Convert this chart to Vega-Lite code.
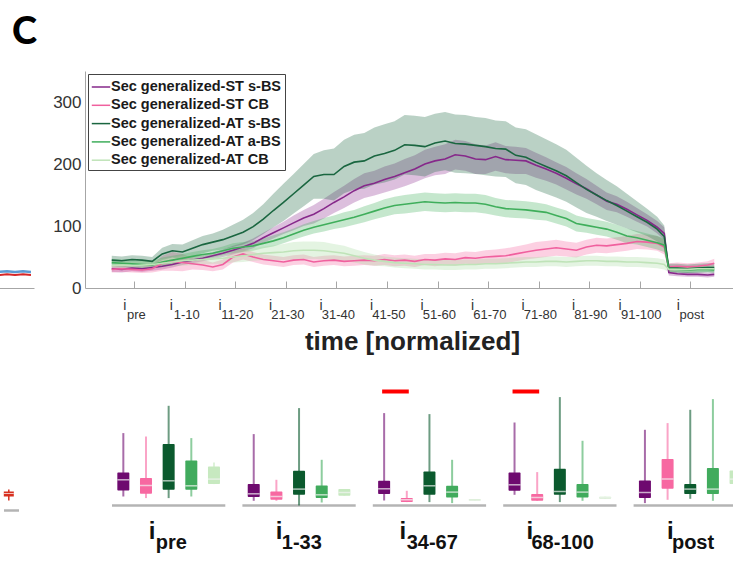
{
"$schema": "https://vega.github.io/schema/vega-lite/v6.json",
"padding": {"left": -6, "top": 14, "right": 0, "bottom": 0},
"title": {"text": "C", "anchor": "start", "fontSize": 38, "fontWeight": 900, "font": "Lato", "dx": 18, "offset": 19, "color": "#000000"},
"config": {"font": "Liberation Sans", "view": {"stroke": null}},
"datasets": {
"ts": [
{"s":"a","t":-9,"m":31,"l":26,"h":36},{"s":"a","t":-7,"m":30,"l":25,"h":35},{"s":"a","t":-5,"m":32,"l":27,"h":37},{"s":"a","t":-3,"m":31,"l":26,"h":36},{"s":"a","t":-1,"m":33,"l":28,"h":38},{"s":"a","t":1,"m":35,"l":30,"h":40},{"s":"a","t":3,"m":38,"l":33,"h":43},{"s":"a","t":5,"m":42,"l":37,"h":47},{"s":"a","t":7,"m":45,"l":40,"h":50},{"s":"a","t":9,"m":48,"l":43,"h":53},{"s":"a","t":11,"m":52,"l":46,"h":58},{"s":"a","t":13,"m":56,"l":50,"h":62},{"s":"a","t":15,"m":61,"l":54,"h":68},{"s":"a","t":17,"m":66,"l":59,"h":73},{"s":"a","t":19,"m":72,"l":64,"h":80},{"s":"a","t":21,"m":81,"l":73,"h":89},{"s":"a","t":23,"m":89,"l":80,"h":98},{"s":"a","t":25,"m":97,"l":87,"h":107},{"s":"a","t":27,"m":105,"l":93,"h":117},{"s":"a","t":29,"m":113,"l":100,"h":126},{"s":"a","t":31,"m":119,"l":104,"h":134},{"s":"a","t":33,"m":128,"l":112,"h":144},{"s":"a","t":35,"m":138,"l":121,"h":155},{"s":"a","t":37,"m":147,"l":129,"h":165},{"s":"a","t":39,"m":157,"l":138,"h":176},{"s":"a","t":41,"m":165,"l":145,"h":185},{"s":"a","t":43,"m":169,"l":149,"h":189},{"s":"a","t":45,"m":175,"l":154,"h":196},{"s":"a","t":47,"m":180,"l":159,"h":201},{"s":"a","t":49,"m":186,"l":164,"h":208},{"s":"a","t":51,"m":192,"l":170,"h":214},{"s":"a","t":53,"m":200,"l":177,"h":223},{"s":"a","t":55,"m":205,"l":182,"h":228},{"s":"a","t":57,"m":208,"l":184,"h":232},{"s":"a","t":59,"m":215,"l":191,"h":239},{"s":"a","t":61,"m":213,"l":189,"h":237},{"s":"a","t":63,"m":208,"l":184,"h":232},{"s":"a","t":65,"m":207,"l":184,"h":230},{"s":"a","t":67,"m":212,"l":189,"h":235},{"s":"a","t":69,"m":207,"l":185,"h":229},{"s":"a","t":71,"m":206,"l":184,"h":228},{"s":"a","t":73,"m":205,"l":184,"h":226},{"s":"a","t":75,"m":198,"l":178,"h":218},{"s":"a","t":77,"m":192,"l":173,"h":211},{"s":"a","t":79,"m":185,"l":167,"h":203},{"s":"a","t":81,"m":177,"l":159,"h":195},{"s":"a","t":83,"m":168,"l":151,"h":185},{"s":"a","t":85,"m":160,"l":144,"h":176},{"s":"a","t":87,"m":150,"l":135,"h":165},{"s":"a","t":89,"m":140,"l":126,"h":154},{"s":"a","t":91,"m":135,"l":122,"h":148},{"s":"a","t":93,"m":127,"l":115,"h":139},{"s":"a","t":95,"m":118,"l":107,"h":129},{"s":"a","t":97,"m":109,"l":99,"h":119},{"s":"a","t":99,"m":98,"l":88,"h":108},{"s":"a","t":100.4,"m":88,"l":78,"h":98},{"s":"a","t":101.3,"m":25,"l":20,"h":30},{"s":"a","t":103,"m":23,"l":19,"h":27},{"s":"a","t":105,"m":22,"l":18,"h":26},{"s":"a","t":107,"m":22,"l":18,"h":26},{"s":"a","t":109,"m":21,"l":17,"h":25},{"s":"a","t":110.3,"m":22,"l":18,"h":26},
{"s":"b","t":-9,"m":30,"l":25,"h":35},{"s":"b","t":-7,"m":31,"l":26,"h":36},{"s":"b","t":-5,"m":30,"l":25,"h":35},{"s":"b","t":-3,"m":29,"l":24,"h":34},{"s":"b","t":-1,"m":31,"l":25,"h":37},{"s":"b","t":1,"m":40,"l":28,"h":52},{"s":"b","t":3,"m":43,"l":28,"h":58},{"s":"b","t":5,"m":41,"l":27,"h":55},{"s":"b","t":7,"m":39,"l":30,"h":48},{"s":"b","t":9,"m":37,"l":29,"h":45},{"s":"b","t":11,"m":34,"l":27,"h":41},{"s":"b","t":13,"m":38,"l":30,"h":46},{"s":"b","t":15,"m":50,"l":41,"h":59},{"s":"b","t":17,"m":55,"l":46,"h":64},{"s":"b","t":19,"m":50,"l":42,"h":58},{"s":"b","t":21,"m":46,"l":38,"h":54},{"s":"b","t":23,"m":44,"l":36,"h":52},{"s":"b","t":25,"m":42,"l":34,"h":50},{"s":"b","t":27,"m":45,"l":37,"h":53},{"s":"b","t":29,"m":46,"l":38,"h":54},{"s":"b","t":31,"m":42,"l":34,"h":50},{"s":"b","t":33,"m":44,"l":36,"h":52},{"s":"b","t":35,"m":45,"l":37,"h":53},{"s":"b","t":37,"m":43,"l":35,"h":51},{"s":"b","t":39,"m":44,"l":36,"h":52},{"s":"b","t":41,"m":45,"l":37,"h":53},{"s":"b","t":43,"m":44,"l":36,"h":52},{"s":"b","t":45,"m":46,"l":37,"h":55},{"s":"b","t":47,"m":44,"l":35,"h":53},{"s":"b","t":49,"m":45,"l":36,"h":54},{"s":"b","t":51,"m":43,"l":34,"h":52},{"s":"b","t":53,"m":46,"l":37,"h":55},{"s":"b","t":55,"m":45,"l":35,"h":55},{"s":"b","t":57,"m":47,"l":37,"h":57},{"s":"b","t":59,"m":46,"l":36,"h":56},{"s":"b","t":61,"m":49,"l":39,"h":59},{"s":"b","t":63,"m":48,"l":38,"h":58},{"s":"b","t":65,"m":50,"l":39,"h":61},{"s":"b","t":67,"m":51,"l":40,"h":62},{"s":"b","t":69,"m":52,"l":40,"h":64},{"s":"b","t":71,"m":55,"l":43,"h":67},{"s":"b","t":73,"m":58,"l":46,"h":70},{"s":"b","t":75,"m":61,"l":48,"h":74},{"s":"b","t":77,"m":63,"l":50,"h":76},{"s":"b","t":79,"m":65,"l":52,"h":78},{"s":"b","t":81,"m":63,"l":51,"h":75},{"s":"b","t":83,"m":61,"l":49,"h":73},{"s":"b","t":85,"m":66,"l":54,"h":78},{"s":"b","t":87,"m":69,"l":57,"h":81},{"s":"b","t":89,"m":68,"l":56,"h":80},{"s":"b","t":91,"m":70,"l":58,"h":82},{"s":"b","t":93,"m":72,"l":60,"h":84},{"s":"b","t":95,"m":75,"l":63,"h":87},{"s":"b","t":97,"m":74,"l":62,"h":86},{"s":"b","t":99,"m":72,"l":60,"h":84},{"s":"b","t":100.4,"m":66,"l":54,"h":78},{"s":"b","t":101.3,"m":34,"l":28,"h":40},{"s":"b","t":103,"m":35,"l":29,"h":41},{"s":"b","t":105,"m":34,"l":28,"h":40},{"s":"b","t":107,"m":35,"l":29,"h":41},{"s":"b","t":109,"m":37,"l":31,"h":43},{"s":"b","t":110.3,"m":40,"l":33,"h":47},
{"s":"c","t":-9,"m":45,"l":38,"h":52},{"s":"c","t":-7,"m":44,"l":37,"h":51},{"s":"c","t":-5,"m":46,"l":39,"h":53},{"s":"c","t":-3,"m":45,"l":38,"h":52},{"s":"c","t":-1,"m":43,"l":36,"h":50},{"s":"c","t":1,"m":55,"l":45,"h":65},{"s":"c","t":3,"m":60,"l":49,"h":71},{"s":"c","t":5,"m":58,"l":46,"h":70},{"s":"c","t":7,"m":64,"l":51,"h":77},{"s":"c","t":9,"m":70,"l":56,"h":84},{"s":"c","t":11,"m":74,"l":60,"h":88},{"s":"c","t":13,"m":78,"l":62,"h":94},{"s":"c","t":15,"m":84,"l":66,"h":102},{"s":"c","t":17,"m":90,"l":70,"h":110},{"s":"c","t":19,"m":99,"l":77,"h":121},{"s":"c","t":21,"m":111,"l":87,"h":135},{"s":"c","t":23,"m":125,"l":98,"h":152},{"s":"c","t":25,"m":138,"l":108,"h":168},{"s":"c","t":27,"m":152,"l":120,"h":184},{"s":"c","t":29,"m":166,"l":132,"h":200},{"s":"c","t":31,"m":180,"l":144,"h":216},{"s":"c","t":33,"m":183,"l":144,"h":222},{"s":"c","t":35,"m":183,"l":141,"h":225},{"s":"c","t":37,"m":196,"l":153,"h":239},{"s":"c","t":39,"m":203,"l":159,"h":247},{"s":"c","t":41,"m":205,"l":160,"h":250},{"s":"c","t":43,"m":213,"l":167,"h":259},{"s":"c","t":45,"m":217,"l":170,"h":264},{"s":"c","t":47,"m":222,"l":175,"h":269},{"s":"c","t":49,"m":231,"l":183,"h":279},{"s":"c","t":51,"m":230,"l":182,"h":278},{"s":"c","t":53,"m":228,"l":180,"h":276},{"s":"c","t":55,"m":234,"l":187,"h":281},{"s":"c","t":57,"m":237,"l":190,"h":284},{"s":"c","t":59,"m":233,"l":186,"h":280},{"s":"c","t":61,"m":232,"l":185,"h":279},{"s":"c","t":63,"m":230,"l":184,"h":276},{"s":"c","t":65,"m":228,"l":182,"h":274},{"s":"c","t":67,"m":225,"l":180,"h":270},{"s":"c","t":69,"m":224,"l":179,"h":269},{"s":"c","t":71,"m":214,"l":169,"h":259},{"s":"c","t":73,"m":211,"l":166,"h":256},{"s":"c","t":75,"m":203,"l":158,"h":248},{"s":"c","t":77,"m":196,"l":152,"h":240},{"s":"c","t":79,"m":189,"l":146,"h":232},{"s":"c","t":81,"m":181,"l":139,"h":223},{"s":"c","t":83,"m":170,"l":130,"h":210},{"s":"c","t":85,"m":159,"l":121,"h":197},{"s":"c","t":87,"m":150,"l":115,"h":185},{"s":"c","t":89,"m":141,"l":108,"h":174},{"s":"c","t":91,"m":133,"l":102,"h":164},{"s":"c","t":93,"m":124,"l":96,"h":152},{"s":"c","t":95,"m":115,"l":90,"h":140},{"s":"c","t":97,"m":106,"l":84,"h":128},{"s":"c","t":99,"m":95,"l":75,"h":115},{"s":"c","t":100.4,"m":83,"l":65,"h":101},{"s":"c","t":101.3,"m":32,"l":25,"h":39},{"s":"c","t":103,"m":32,"l":25,"h":39},{"s":"c","t":105,"m":31,"l":24,"h":38},{"s":"c","t":107,"m":32,"l":25,"h":39},{"s":"c","t":109,"m":33,"l":26,"h":40},{"s":"c","t":110.3,"m":33,"l":26,"h":40},
{"s":"d","t":-9,"m":41,"l":35,"h":47},{"s":"d","t":-7,"m":40,"l":34,"h":46},{"s":"d","t":-5,"m":39,"l":33,"h":45},{"s":"d","t":-3,"m":38,"l":32,"h":44},{"s":"d","t":-1,"m":37,"l":31,"h":43},{"s":"d","t":1,"m":42,"l":35,"h":49},{"s":"d","t":3,"m":45,"l":38,"h":52},{"s":"d","t":5,"m":48,"l":41,"h":55},{"s":"d","t":7,"m":51,"l":44,"h":58},{"s":"d","t":9,"m":54,"l":47,"h":61},{"s":"d","t":11,"m":56,"l":49,"h":63},{"s":"d","t":13,"m":60,"l":53,"h":67},{"s":"d","t":15,"m":64,"l":56,"h":72},{"s":"d","t":17,"m":66,"l":58,"h":74},{"s":"d","t":19,"m":68,"l":60,"h":76},{"s":"d","t":21,"m":72,"l":64,"h":80},{"s":"d","t":23,"m":76,"l":67,"h":85},{"s":"d","t":25,"m":81,"l":72,"h":90},{"s":"d","t":27,"m":87,"l":78,"h":96},{"s":"d","t":29,"m":93,"l":83,"h":103},{"s":"d","t":31,"m":98,"l":88,"h":108},{"s":"d","t":33,"m":102,"l":91,"h":113},{"s":"d","t":35,"m":106,"l":95,"h":117},{"s":"d","t":37,"m":110,"l":98,"h":122},{"s":"d","t":39,"m":114,"l":102,"h":126},{"s":"d","t":41,"m":119,"l":106,"h":132},{"s":"d","t":43,"m":124,"l":111,"h":137},{"s":"d","t":45,"m":129,"l":115,"h":143},{"s":"d","t":47,"m":133,"l":119,"h":147},{"s":"d","t":49,"m":135,"l":120,"h":150},{"s":"d","t":51,"m":137,"l":122,"h":152},{"s":"d","t":53,"m":139,"l":124,"h":154},{"s":"d","t":55,"m":138,"l":123,"h":153},{"s":"d","t":57,"m":137,"l":122,"h":152},{"s":"d","t":59,"m":138,"l":123,"h":153},{"s":"d","t":61,"m":137,"l":122,"h":152},{"s":"d","t":63,"m":137,"l":122,"h":152},{"s":"d","t":65,"m":135,"l":120,"h":150},{"s":"d","t":67,"m":131,"l":117,"h":145},{"s":"d","t":69,"m":128,"l":114,"h":142},{"s":"d","t":71,"m":127,"l":113,"h":141},{"s":"d","t":73,"m":126,"l":112,"h":140},{"s":"d","t":75,"m":124,"l":110,"h":138},{"s":"d","t":77,"m":122,"l":109,"h":135},{"s":"d","t":79,"m":117,"l":104,"h":130},{"s":"d","t":81,"m":112,"l":99,"h":125},{"s":"d","t":83,"m":104,"l":91,"h":117},{"s":"d","t":85,"m":101,"l":89,"h":113},{"s":"d","t":87,"m":98,"l":86,"h":110},{"s":"d","t":89,"m":95,"l":83,"h":107},{"s":"d","t":91,"m":90,"l":78,"h":102},{"s":"d","t":93,"m":84,"l":72,"h":96},{"s":"d","t":95,"m":81,"l":70,"h":92},{"s":"d","t":97,"m":77,"l":66,"h":88},{"s":"d","t":99,"m":73,"l":62,"h":84},{"s":"d","t":100.4,"m":69,"l":58,"h":80},{"s":"d","t":101.3,"m":31,"l":26,"h":36},{"s":"d","t":103,"m":30,"l":25,"h":35},{"s":"d","t":105,"m":29,"l":24,"h":34},{"s":"d","t":107,"m":30,"l":25,"h":35},{"s":"d","t":109,"m":30,"l":25,"h":35},{"s":"d","t":110.3,"m":29,"l":24,"h":34},
{"s":"e","t":-9,"m":36,"l":30,"h":42},{"s":"e","t":-7,"m":37,"l":31,"h":43},{"s":"e","t":-5,"m":36,"l":30,"h":42},{"s":"e","t":-3,"m":37,"l":31,"h":43},{"s":"e","t":-1,"m":38,"l":32,"h":44},{"s":"e","t":1,"m":40,"l":33,"h":47},{"s":"e","t":3,"m":42,"l":35,"h":49},{"s":"e","t":5,"m":44,"l":36,"h":52},{"s":"e","t":7,"m":45,"l":37,"h":53},{"s":"e","t":9,"m":46,"l":38,"h":54},{"s":"e","t":11,"m":47,"l":39,"h":55},{"s":"e","t":13,"m":48,"l":39,"h":57},{"s":"e","t":15,"m":50,"l":41,"h":59},{"s":"e","t":17,"m":52,"l":42,"h":62},{"s":"e","t":19,"m":54,"l":44,"h":64},{"s":"e","t":21,"m":56,"l":45,"h":67},{"s":"e","t":23,"m":57,"l":45,"h":69},{"s":"e","t":25,"m":58,"l":45,"h":71},{"s":"e","t":27,"m":60,"l":46,"h":74},{"s":"e","t":29,"m":61,"l":47,"h":75},{"s":"e","t":31,"m":61,"l":47,"h":75},{"s":"e","t":33,"m":60,"l":46,"h":74},{"s":"e","t":35,"m":58,"l":45,"h":71},{"s":"e","t":37,"m":56,"l":44,"h":68},{"s":"e","t":39,"m":52,"l":41,"h":63},{"s":"e","t":41,"m":48,"l":38,"h":58},{"s":"e","t":43,"m":45,"l":36,"h":54},{"s":"e","t":45,"m":43,"l":35,"h":51},{"s":"e","t":47,"m":41,"l":33,"h":49},{"s":"e","t":49,"m":40,"l":32,"h":48},{"s":"e","t":51,"m":39,"l":31,"h":47},{"s":"e","t":53,"m":38,"l":30,"h":46},{"s":"e","t":55,"m":38,"l":30,"h":46},{"s":"e","t":57,"m":37,"l":29,"h":45},{"s":"e","t":59,"m":37,"l":29,"h":45},{"s":"e","t":61,"m":38,"l":30,"h":46},{"s":"e","t":63,"m":38,"l":30,"h":46},{"s":"e","t":65,"m":39,"l":31,"h":47},{"s":"e","t":67,"m":39,"l":31,"h":47},{"s":"e","t":69,"m":40,"l":32,"h":48},{"s":"e","t":71,"m":41,"l":33,"h":49},{"s":"e","t":73,"m":42,"l":34,"h":50},{"s":"e","t":75,"m":42,"l":34,"h":50},{"s":"e","t":77,"m":43,"l":35,"h":51},{"s":"e","t":79,"m":43,"l":35,"h":51},{"s":"e","t":81,"m":42,"l":34,"h":50},{"s":"e","t":83,"m":43,"l":35,"h":51},{"s":"e","t":85,"m":44,"l":36,"h":52},{"s":"e","t":87,"m":44,"l":36,"h":52},{"s":"e","t":89,"m":43,"l":35,"h":51},{"s":"e","t":91,"m":43,"l":35,"h":51},{"s":"e","t":93,"m":42,"l":34,"h":50},{"s":"e","t":95,"m":42,"l":34,"h":50},{"s":"e","t":97,"m":41,"l":33,"h":49},{"s":"e","t":99,"m":40,"l":32,"h":48},{"s":"e","t":100.4,"m":38,"l":30,"h":46},{"s":"e","t":101.3,"m":30,"l":26,"h":34},{"s":"e","t":103,"m":30,"l":26,"h":34},{"s":"e","t":105,"m":30,"l":26,"h":34},{"s":"e","t":107,"m":31,"l":27,"h":35},{"s":"e","t":109,"m":31,"l":27,"h":35},{"s":"e","t":110.3,"m":31,"l":27,"h":35}
],
"ticks": [
{"t":-4.5,"li":"i\u00a0\u00a0\u00a0\u00a0\u00a0\u200b","ls":"\u200b\u00a0pre"},
{"t":5.5,"li":"i\u00a0\u00a0\u00a0\u00a0\u00a0\u00a0\u00a0\u200b","ls":"\u200b\u00a01-10"},
{"t":15.5,"li":"i\u00a0\u00a0\u00a0\u00a0\u00a0\u00a0\u00a0\u00a0\u200b","ls":"\u200b\u00a011-20"},
{"t":25.5,"li":"i\u00a0\u00a0\u00a0\u00a0\u00a0\u00a0\u00a0\u00a0\u200b","ls":"\u200b\u00a021-30"},
{"t":35.5,"li":"i\u00a0\u00a0\u00a0\u00a0\u00a0\u00a0\u00a0\u00a0\u200b","ls":"\u200b\u00a031-40"},
{"t":45.5,"li":"i\u00a0\u00a0\u00a0\u00a0\u00a0\u00a0\u00a0\u00a0\u200b","ls":"\u200b\u00a041-50"},
{"t":55.5,"li":"i\u00a0\u00a0\u00a0\u00a0\u00a0\u00a0\u00a0\u00a0\u200b","ls":"\u200b\u00a051-60"},
{"t":65.5,"li":"i\u00a0\u00a0\u00a0\u00a0\u00a0\u00a0\u00a0\u00a0\u200b","ls":"\u200b\u00a061-70"},
{"t":75.5,"li":"i\u00a0\u00a0\u00a0\u00a0\u00a0\u00a0\u00a0\u00a0\u200b","ls":"\u200b\u00a071-80"},
{"t":85.5,"li":"i\u00a0\u00a0\u00a0\u00a0\u00a0\u00a0\u00a0\u00a0\u200b","ls":"\u200b\u00a081-90"},
{"t":95.5,"li":"i\u00a0\u00a0\u00a0\u00a0\u00a0\u00a0\u00a0\u00a0\u00a0\u00a0\u200b","ls":"\u200b\u00a091-100"},
{"t":105.5,"li":"i\u00a0\u00a0\u00a0\u00a0\u00a0\u00a0\u200b","ls":"\u200b\u00a0post"}
],
"box": [
{"kind":"box","g":"pre","s":"a","lo":9,"q1":15,"md":25.7,"q3":33,"hi":72.4},
{"kind":"box","g":"pre","s":"b","lo":7.4,"q1":11.7,"md":20,"q3":27.4,"hi":69},
{"kind":"box","g":"pre","s":"c","lo":7.4,"q1":15.7,"md":24.7,"q3":61.4,"hi":99.7},
{"kind":"box","g":"pre","s":"d","lo":9,"q1":15.7,"md":19.7,"q3":45,"hi":67.4},
{"kind":"box","g":"pre","s":"e","lo":21.4,"q1":21.4,"md":26.4,"q3":39,"hi":43},
{"kind":"box","g":"1-33","s":"a","lo":4.7,"q1":8.4,"md":11.7,"q3":21.4,"hi":71.4},
{"kind":"box","g":"1-33","s":"b","lo":4.7,"q1":5.7,"md":9,"q3":14,"hi":25.7},
{"kind":"box","g":"1-33","s":"c","lo":0,"q1":10.7,"md":16.4,"q3":34.7,"hi":97.4},
{"kind":"box","g":"1-33","s":"d","lo":3,"q1":7.4,"md":10.7,"q3":20,"hi":45.7},
{"kind":"box","g":"1-33","s":"e","lo":9.7,"q1":9.7,"md":13,"q3":16.4,"hi":16.4},
{"kind":"box","g":"34-67","s":"a","lo":5,"q1":11.4,"md":16.7,"q3":24.7,"hi":92.4},
{"kind":"box","g":"34-67","s":"b","lo":3.4,"q1":3.4,"md":5.7,"q3":7.4,"hi":14.7},
{"kind":"box","g":"34-67","s":"c","lo":3.4,"q1":10.7,"md":19.7,"q3":34,"hi":91.4},
{"kind":"box","g":"34-67","s":"d","lo":2.4,"q1":8,"md":13.4,"q3":19.7,"hi":45.7},
{"kind":"box","g":"34-67","s":"e","lo":4.7,"q1":4.7,"md":5.5,"q3":6.4,"hi":6.4},
{"kind":"box","g":"68-100","s":"a","lo":10.7,"q1":14.7,"md":20.7,"q3":33,"hi":83},
{"kind":"box","g":"68-100","s":"b","lo":4.7,"q1":4.7,"md":8,"q3":11.4,"hi":33.4},
{"kind":"box","g":"68-100","s":"c","lo":3.4,"q1":10.7,"md":14,"q3":36.7,"hi":108.4},
{"kind":"box","g":"68-100","s":"d","lo":4.7,"q1":8,"md":13.4,"q3":21.4,"hi":64.7},
{"kind":"box","g":"68-100","s":"e","lo":6.7,"q1":6.7,"md":7.7,"q3":8.7,"hi":8.7},
{"kind":"box","g":"post","s":"a","lo":2.4,"q1":7.4,"md":13,"q3":25,"hi":75.7},
{"kind":"box","g":"post","s":"b","lo":5.7,"q1":16.7,"md":26.4,"q3":46.4,"hi":82.4},
{"kind":"box","g":"post","s":"c","lo":6.7,"q1":11.4,"md":16.4,"q3":21.4,"hi":95.7},
{"kind":"box","g":"post","s":"d","lo":4.7,"q1":11.4,"md":16.4,"q3":37.4,"hi":106.4},
{"kind":"box","g":"post","s":"e","lo":21.4,"q1":21.4,"md":26.4,"q3":35,"hi":39},
{"kind":"sig","g":"34-67","s":"a","s2":"b"},
{"kind":"sig","g":"68-100","s":"a","s2":"b"},
{"kind":"lab","g":"pre","s":"c","li":"i\u00a0\u00a0\u00a0\u00a0\u00a0\u200b","ls":"\u200b\u00a0pre"},
{"kind":"lab","g":"1-33","s":"c","li":"i\u00a0\u00a0\u00a0\u00a0\u00a0\u00a0\u200b","ls":"\u200b\u00a01-33"},
{"kind":"lab","g":"34-67","s":"c","li":"i\u00a0\u00a0\u00a0\u00a0\u00a0\u00a0\u00a0\u00a0\u200b","ls":"\u200b\u00a034-67"},
{"kind":"lab","g":"68-100","s":"c","li":"i\u00a0\u00a0\u00a0\u00a0\u00a0\u00a0\u00a0\u00a0\u00a0\u200b","ls":"\u200b\u00a068-100"},
{"kind":"lab","g":"post","s":"c","li":"i\u00a0\u00a0\u00a0\u00a0\u00a0\u00a0\u200b","ls":"\u200b\u00a0post"}
]
},
"spacing": 30.5,
"resolve": {"legend": {"stroke": "independent", "fill": "independent", "color": "independent"}},
"vconcat": [
{
"resolve": {"scale": {"stroke": "independent", "fill": "independent"}, "legend": {"stroke": "independent", "fill": "independent"}},
"hconcat": [
{
"width": 35, "height": 217,
"data": {"values": [
{"x":0,"v":26,"k":"b"},{"x":8,"v":27,"k":"b"},{"x":16,"v":26,"k":"b"},{"x":24,"v":27,"k":"b"},{"x":32,"v":26,"k":"b"},
{"x":0,"v":21,"k":"r"},{"x":8,"v":22,"k":"r"},{"x":16,"v":21,"k":"r"},{"x":24,"v":22,"k":"r"},{"x":32,"v":21,"k":"r"}
]},
"layer": [
{"transform": [{"filter": "datum.k == 'b'"}],
"mark": {"type": "line", "strokeWidth": 2.5, "color": "#5b9bd5"},
"encoding": {
"x": {"field": "x", "type": "quantitative", "scale": {"domain": [0, 35], "nice": false}, "axis": {"labels": false, "ticks": false, "title": null, "grid": false, "domainColor": "#a6a6a6"}},
"y": {"field": "v", "type": "quantitative", "scale": {"domain": [0, 350], "nice": false}, "axis": null}}},
{"transform": [{"filter": "datum.k == 'r'"}],
"mark": {"type": "line", "strokeWidth": 2, "color": "#d62728"},
"encoding": {
"x": {"field": "x", "type": "quantitative"},
"y": {"field": "v", "type": "quantitative"}}}
]
},
{
"width": 654, "height": 217,
"layer": [
{
"data": {"name": "ts"},
"mark": {"type": "area", "opacity": 0.3},
"encoding": {
"x": {"field": "t", "type": "quantitative", "scale": {"domain": [-14.3, 115.2], "nice": false, "zero": false},
"axis": {"values": [-4.5, 5.5, 15.5, 25.5, 35.5, 45.5, 55.5, 65.5, 75.5, 85.5, 95.5, 105.5], "labels": false, "tickSize": -7, "tickColor": "#a6a6a6", "domainColor": "#a6a6a6", "grid": false, "title": "time [normalized]", "titleFontSize": 26, "titleFontWeight": "bold", "titleColor": "#222222", "titlePadding": 40}},
"y": {"field": "l", "type": "quantitative", "scale": {"domain": [0, 350], "nice": false},
"axis": {"values": [0, 100, 200, 300], "ticks": false, "labelFontSize": 17, "labelColor": "#333333", "labelPadding": 4, "domainColor": "#a6a6a6", "grid": false, "title": null}},
"y2": {"field": "h"},
"fill": {"field": "s", "type": "nominal", "scale": {"domain": ["e", "d", "c", "b", "a"], "range": ["#a6d99e", "#3fae5b", "#1a6640", "#f4649f", "#8a2b8d"]}, "legend": null}
}
},
{
"data": {"name": "ts"},
"mark": {"type": "line", "strokeWidth": 1.6},
"encoding": {
"x": {"field": "t", "type": "quantitative"},
"y": {"field": "m", "type": "quantitative"},
"stroke": {"field": "s", "type": "nominal", "scale": {"domain": ["a", "b", "c", "d", "e"], "range": ["#86288a", "#f0609e", "#1a6640", "#3fae5b", "#bfe3b8"]},
"legend": {"orient": "top-left", "offset": 3, "title": null, "symbolType": "stroke", "symbolSize": 340, "symbolStrokeWidth": 1.5, "labelFontSize": 14.5, "labelFontWeight": "bold", "labelColor": "#1a1a1a", "strokeColor": "#444444", "fillColor": "#ffffff", "padding": 3, "rowPadding": 1.3, "labelOffset": 0, "labelLimit": 400,
"labelExpr": "{'a':'Sec generalized-ST s-BS','b':'Sec generalized-ST CB','c':'Sec generalized-AT s-BS','d':'Sec generalized-AT a-BS','e':'Sec generalized-AT CB'}[datum.label]"}}
}
},
{
"data": {"name": "ticks"},
"mark": {"type": "text", "fontSize": 14, "color": "#333333", "baseline": "alphabetic", "align": "center"},
"encoding": {"x": {"field": "t", "type": "quantitative"}, "y": {"datum": -35.5}, "text": {"field": "li"}}
},
{
"data": {"name": "ticks"},
"mark": {"type": "text", "fontSize": 13, "color": "#333333", "baseline": "alphabetic", "align": "center"},
"encoding": {"x": {"field": "t", "type": "quantitative"}, "y": {"datum": -50.8}, "text": {"field": "ls"}}
}
]
}
],
"bounds": "flush",
"spacing": 51
},
{
"hconcat": [
{
"width": 25, "height": 120,
"data": {"values": [{"x": 8, "lo": 5, "q1": 9, "md": 12, "q3": 14, "hi": 16}]},
"layer": [
{"mark": {"type": "rule", "color": "#b4b4b4", "strokeWidth": 2.5},
"encoding": {"x": {"datum": 0, "type": "quantitative", "scale": {"domain": [0, 25], "nice": false}, "axis": null}, "x2": {"datum": 25}, "y": {"datum": -5, "type": "quantitative", "scale": {"domain": [0, 120], "nice": false}, "axis": null}}},
{"mark": {"type": "rule", "color": "#d7301f", "strokeWidth": 1.5},
"encoding": {"x": {"field": "x", "type": "quantitative"}, "y": {"field": "lo", "type": "quantitative"}, "y2": {"field": "hi"}}},
{"mark": {"type": "bar", "color": "#d7301f", "size": 10},
"encoding": {"x": {"field": "x", "type": "quantitative"}, "y": {"field": "q1", "type": "quantitative"}, "y2": {"field": "q3"}}},
{"mark": {"type": "tick", "color": "#ffffff", "size": 10, "thickness": 1, "orient": "horizontal"},
"encoding": {"x": {"field": "x", "type": "quantitative"}, "y": {"field": "md", "type": "quantitative"}}}
]
},
{
"data": {"name": "box"},
"facet": {"column": {"field": "g", "type": "nominal", "sort": ["pre", "1-33", "34-67", "68-100", "post"], "header": {"labels": false, "title": null}}},
"spacing": 13.4,
"spec": {
"width": 113.3, "height": 120,
"layer": [
{"transform": [{"filter": "datum.kind == 'lab'"}],
"mark": {"type": "rule", "color": "#b4b4b4", "strokeWidth": 2.5},
"encoding": {"y": {"datum": 0, "type": "quantitative", "scale": {"domain": [0, 120], "nice": false}, "axis": null}}},
{"transform": [{"filter": "datum.kind == 'box'"}],
"mark": {"type": "rule", "strokeWidth": 2, "opacity": 0.6},
"encoding": {
"x": {"field": "s", "type": "nominal", "scale": {"domain": ["a", "b", "c", "d", "e"], "paddingInner": 0, "paddingOuter": 0}, "axis": null},
"y": {"field": "lo", "type": "quantitative"}, "y2": {"field": "hi"},
"color": {"field": "s", "type": "nominal", "scale": {"domain": ["a", "c", "b", "d", "e"], "range": ["#6e0a6f", "#0b5a2e", "#f768a1", "#41ab5d", "#c7e9c0"]}, "legend": null}}},
{"transform": [{"filter": "datum.kind == 'box'"}],
"mark": {"type": "bar", "size": 12, "cornerRadius": 1},
"encoding": {
"x": {"field": "s", "type": "nominal"},
"y": {"field": "q1", "type": "quantitative"}, "y2": {"field": "q3"},
"color": {"field": "s", "type": "nominal", "legend": null}}},
{"transform": [{"filter": "datum.kind == 'box'"}],
"mark": {"type": "tick", "color": "#f4f4f4", "size": 12, "thickness": 1.5},
"encoding": {"x": {"field": "s", "type": "nominal"}, "y": {"field": "md", "type": "quantitative"}}},
{"transform": [{"filter": "datum.kind == 'sig'"}],
"mark": {"type": "rule", "color": "#ff0000", "strokeWidth": 4, "strokeCap": "square"},
"encoding": {"x": {"field": "s", "type": "nominal"}, "x2": {"field": "s2"}, "y": {"datum": 114}}},
{"transform": [{"filter": "datum.kind == 'lab'"}],
"mark": {"type": "text", "fontSize": 24, "fontWeight": "bold", "color": "#111111", "baseline": "alphabetic", "align": "center"},
"encoding": {"x": {"field": "s", "type": "nominal"}, "y": {"datum": -33}, "text": {"field": "li"}}},
{"transform": [{"filter": "datum.kind == 'lab'"}],
"mark": {"type": "text", "fontSize": 20, "fontWeight": "bold", "color": "#111111", "baseline": "alphabetic", "align": "center"},
"encoding": {"x": {"field": "s", "type": "nominal"}, "y": {"datum": -43.5}, "text": {"field": "ls"}}}
]
}
}
],
"bounds": "flush",
"spacing": 88
}
]
}
